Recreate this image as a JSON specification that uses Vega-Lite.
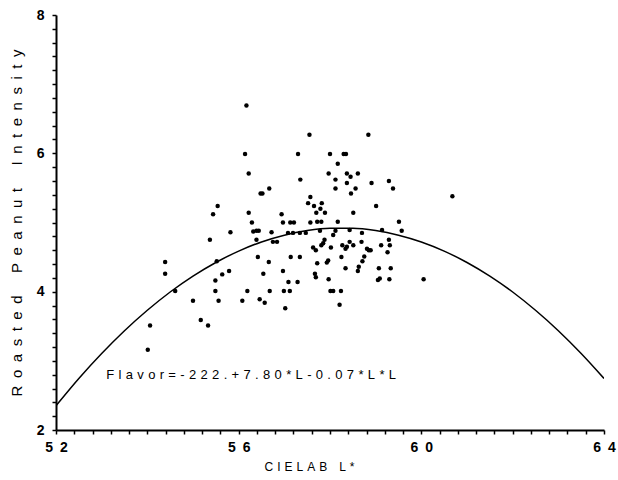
{
  "$schema": "https://vega.github.io/schema/vega-lite/v6.json",
  "width": 548,
  "height": 415,
  "autosize": "none",
  "padding": {"left": 56, "top": 15, "right": 14, "bottom": 50},
  "background": "white",
  "config": {"view": {"stroke": null}, "font": "Liberation Sans"},
  "datasets": {
    "pts": [
      {"L": 56.17, "F": 6.69}, {"L": 57.55, "F": 6.27}, {"L": 58.84, "F": 6.27}, {"L": 56.14, "F": 5.99},
      {"L": 57.30, "F": 5.99}, {"L": 58.00, "F": 5.99}, {"L": 58.30, "F": 5.99}, {"L": 58.35, "F": 5.99},
      {"L": 58.17, "F": 5.85}, {"L": 56.22, "F": 5.71}, {"L": 57.97, "F": 5.71}, {"L": 58.37, "F": 5.71},
      {"L": 58.45, "F": 5.66}, {"L": 58.61, "F": 5.71}, {"L": 57.35, "F": 5.62}, {"L": 58.12, "F": 5.62},
      {"L": 58.37, "F": 5.57}, {"L": 58.91, "F": 5.57}, {"L": 59.29, "F": 5.60}, {"L": 59.38, "F": 5.49},
      {"L": 58.12, "F": 5.49}, {"L": 58.56, "F": 5.49}, {"L": 58.46, "F": 5.42}, {"L": 56.48, "F": 5.42},
      {"L": 56.52, "F": 5.42}, {"L": 56.67, "F": 5.49}, {"L": 57.57, "F": 5.37}, {"L": 57.52, "F": 5.28},
      {"L": 57.65, "F": 5.24}, {"L": 57.82, "F": 5.28}, {"L": 57.79, "F": 5.20}, {"L": 57.70, "F": 5.14},
      {"L": 57.89, "F": 5.14}, {"L": 58.51, "F": 5.14}, {"L": 59.01, "F": 5.24}, {"L": 55.54, "F": 5.24},
      {"L": 55.44, "F": 5.12}, {"L": 56.22, "F": 5.14}, {"L": 56.94, "F": 5.12}, {"L": 56.29, "F": 5.00},
      {"L": 56.97, "F": 5.00}, {"L": 57.13, "F": 5.00}, {"L": 57.21, "F": 5.00}, {"L": 57.57, "F": 5.00},
      {"L": 55.82, "F": 4.86}, {"L": 56.32, "F": 4.87}, {"L": 56.39, "F": 4.88}, {"L": 56.44, "F": 4.88},
      {"L": 56.72, "F": 4.86}, {"L": 59.51, "F": 5.01}, {"L": 57.72, "F": 5.01}, {"L": 57.81, "F": 5.01},
      {"L": 58.17, "F": 5.01}, {"L": 57.78, "F": 4.88}, {"L": 58.12, "F": 4.88}, {"L": 58.43, "F": 4.89},
      {"L": 58.70, "F": 4.85}, {"L": 59.14, "F": 4.89}, {"L": 59.57, "F": 4.88}, {"L": 57.08, "F": 4.85},
      {"L": 57.19, "F": 4.85}, {"L": 57.34, "F": 4.85}, {"L": 57.47, "F": 4.85}, {"L": 55.37, "F": 4.75},
      {"L": 56.39, "F": 4.75}, {"L": 56.75, "F": 4.72}, {"L": 56.84, "F": 4.72}, {"L": 58.07, "F": 4.82},
      {"L": 57.88, "F": 4.75}, {"L": 57.85, "F": 4.70}, {"L": 58.43, "F": 4.72}, {"L": 58.51, "F": 4.67},
      {"L": 58.69, "F": 4.72}, {"L": 59.12, "F": 4.67}, {"L": 59.29, "F": 4.75}, {"L": 59.31, "F": 4.67},
      {"L": 57.63, "F": 4.64}, {"L": 57.69, "F": 4.60}, {"L": 57.81, "F": 4.67}, {"L": 58.02, "F": 4.64},
      {"L": 58.27, "F": 4.67}, {"L": 58.34, "F": 4.62}, {"L": 58.37, "F": 4.65}, {"L": 58.81, "F": 4.62},
      {"L": 58.85, "F": 4.60}, {"L": 58.89, "F": 4.60}, {"L": 59.26, "F": 4.57}, {"L": 56.42, "F": 4.50},
      {"L": 57.14, "F": 4.50}, {"L": 57.34, "F": 4.50}, {"L": 56.66, "F": 4.43}, {"L": 57.96, "F": 4.45},
      {"L": 57.93, "F": 4.42}, {"L": 58.25, "F": 4.50}, {"L": 58.75, "F": 4.51}, {"L": 58.71, "F": 4.44},
      {"L": 57.72, "F": 4.41}, {"L": 55.52, "F": 4.44}, {"L": 55.64, "F": 4.25}, {"L": 55.79, "F": 4.30},
      {"L": 56.54, "F": 4.26}, {"L": 56.97, "F": 4.30}, {"L": 57.67, "F": 4.26}, {"L": 57.69, "F": 4.21},
      {"L": 58.34, "F": 4.34}, {"L": 58.63, "F": 4.36}, {"L": 58.61, "F": 4.30}, {"L": 59.07, "F": 4.34},
      {"L": 59.33, "F": 4.34}, {"L": 55.49, "F": 4.16}, {"L": 57.09, "F": 4.14}, {"L": 57.29, "F": 4.14},
      {"L": 57.97, "F": 4.18}, {"L": 59.05, "F": 4.17}, {"L": 59.09, "F": 4.19}, {"L": 59.30, "F": 4.18},
      {"L": 55.49, "F": 4.01}, {"L": 56.19, "F": 4.01}, {"L": 56.68, "F": 4.01}, {"L": 56.99, "F": 4.01},
      {"L": 57.12, "F": 4.01}, {"L": 58.01, "F": 4.01}, {"L": 58.07, "F": 4.01}, {"L": 58.24, "F": 4.01},
      {"L": 55.00, "F": 3.87}, {"L": 55.56, "F": 3.87}, {"L": 56.08, "F": 3.87}, {"L": 56.46, "F": 3.89},
      {"L": 56.57, "F": 3.84}, {"L": 58.21, "F": 3.81}, {"L": 57.02, "F": 3.76}, {"L": 55.17, "F": 3.59},
      {"L": 55.33, "F": 3.51}, {"L": 54.39, "F": 4.43}, {"L": 54.39, "F": 4.26}, {"L": 54.61, "F": 4.01},
      {"L": 54.06, "F": 3.51}, {"L": 54.01, "F": 3.16}, {"L": 60.68, "F": 5.38}, {"L": 60.05, "F": 4.18}
    ],
    "curve": [
      {"L": 52, "F": 2.35}, {"L": 52.5, "F": 2.745}, {"L": 53, "F": 3.106}, {"L": 53.5, "F": 3.435},
      {"L": 54, "F": 3.731}, {"L": 54.5, "F": 3.995}, {"L": 55, "F": 4.225}, {"L": 55.5, "F": 4.422},
      {"L": 56, "F": 4.587}, {"L": 56.5, "F": 4.719}, {"L": 57, "F": 4.817}, {"L": 57.5, "F": 4.883},
      {"L": 58, "F": 4.916}, {"L": 58.5, "F": 4.916}, {"L": 59, "F": 4.883}, {"L": 59.5, "F": 4.817},
      {"L": 60, "F": 4.719}, {"L": 60.5, "F": 4.587}, {"L": 61, "F": 4.422}, {"L": 61.5, "F": 4.225},
      {"L": 62, "F": 3.995}, {"L": 62.5, "F": 3.731}, {"L": 63, "F": 3.435}, {"L": 63.5, "F": 3.106},
      {"L": 64, "F": 2.745}
    ],
    "ann": [
      {"L": 53.1, "F": 2.79, "label": "F\u2004l\u2004a\u2004v\u2004o\u2004r\u2004=\u2004-\u20042\u20042\u20042\u2004.\u2004+\u20047\u2004.\u20048\u20040\u2004*\u2004L\u2004-\u20040\u2004.\u20040\u20047\u2004*\u2004L\u2004*\u2004L"}
    ]
  },
  "encoding": {
    "x": {
      "field": "L", "type": "quantitative",
      "scale": {"domain": [52, 64], "nice": false, "zero": false},
      "axis": {
        "title": "C\u2004I\u2004E\u2004L\u2004A\u2004B\u2004\u2004\u2004L\u2004*",
        "titleFont": "Liberation Sans", "titleFontSize": 12, "titleFontWeight": "normal", "titleColor": "black",
        "titlePadding": 7, "titleX": 253,
        "values": [52, 52.4, 52.8, 53.2, 53.6, 54, 54.4, 54.8, 55.2, 55.6, 56, 56.4, 56.8, 57.2, 57.6, 58, 58.4, 58.8, 59.2, 59.6, 60, 60.4, 60.8, 61.2, 61.6, 62, 62.4, 62.8, 63.2, 63.6, 64],
        "labelExpr": "datum.value % 4 == 0 ? slice(format(datum.value, 'd'), 0, 1) + '\u2002' + slice(format(datum.value, 'd'), 1) : ''",
        "labelFont": "Liberation Sans", "labelFontSize": 14, "labelFontWeight": "bold", "labelColor": "black",
        "labelFlush": false, "labelOverlap": false, "labelBound": false, "labelPadding": 6,
        "grid": false, "domainColor": "black", "domainWidth": 2, "tickColor": "black", "tickWidth": 1.5, "tickSize": 4
      }
    },
    "y": {
      "field": "F", "type": "quantitative",
      "scale": {"domain": [2, 8], "nice": false, "zero": false},
      "axis": {
        "title": "R\u2002o\u2002a\u2002s\u2002t\u2002e\u2002d\u2002\u2002\u2002P\u2002e\u2002a\u2002n\u2002u\u2002t\u2002\u2002\u2002I\u2002n\u2002t\u2002e\u2002n\u2002s\u2002i\u2002t\u2002y",
        "titleFont": "Liberation Sans", "titleFontSize": 15, "titleFontWeight": "normal", "titleColor": "black",
        "titlePadding": 12,
        "values": [2, 2.2, 2.4, 2.6, 2.8, 3, 3.2, 3.4, 3.6, 3.8, 4, 4.2, 4.4, 4.6, 4.8, 5, 5.2, 5.4, 5.6, 5.8, 6, 6.2, 6.4, 6.6, 6.8, 7, 7.2, 7.4, 7.6, 7.8, 8],
        "labelExpr": "datum.value % 2 == 0 ? format(datum.value, 'd') : ''",
        "labelFont": "Liberation Sans", "labelFontSize": 14, "labelFontWeight": "bold", "labelColor": "black",
        "labelFlush": false, "labelOverlap": false, "labelBound": false, "labelPadding": 8,
        "grid": false, "domainColor": "black", "domainWidth": 2, "tickColor": "black", "tickWidth": 1.5, "tickSize": 4
      }
    }
  },
  "layer": [
    {
      "data": {"name": "pts"},
      "mark": {"type": "circle", "color": "black", "opacity": 1, "size": 20}
    },
    {
      "data": {"name": "curve"},
      "mark": {"type": "line", "color": "black", "strokeWidth": 1.5, "interpolate": "monotone", "clip": true}
    },
    {
      "data": {"name": "ann"},
      "mark": {"type": "text", "align": "left", "baseline": "middle", "font": "Liberation Sans", "fontSize": 13, "color": "black"},
      "encoding": {"text": {"field": "label"}}
    }
  ]
}
